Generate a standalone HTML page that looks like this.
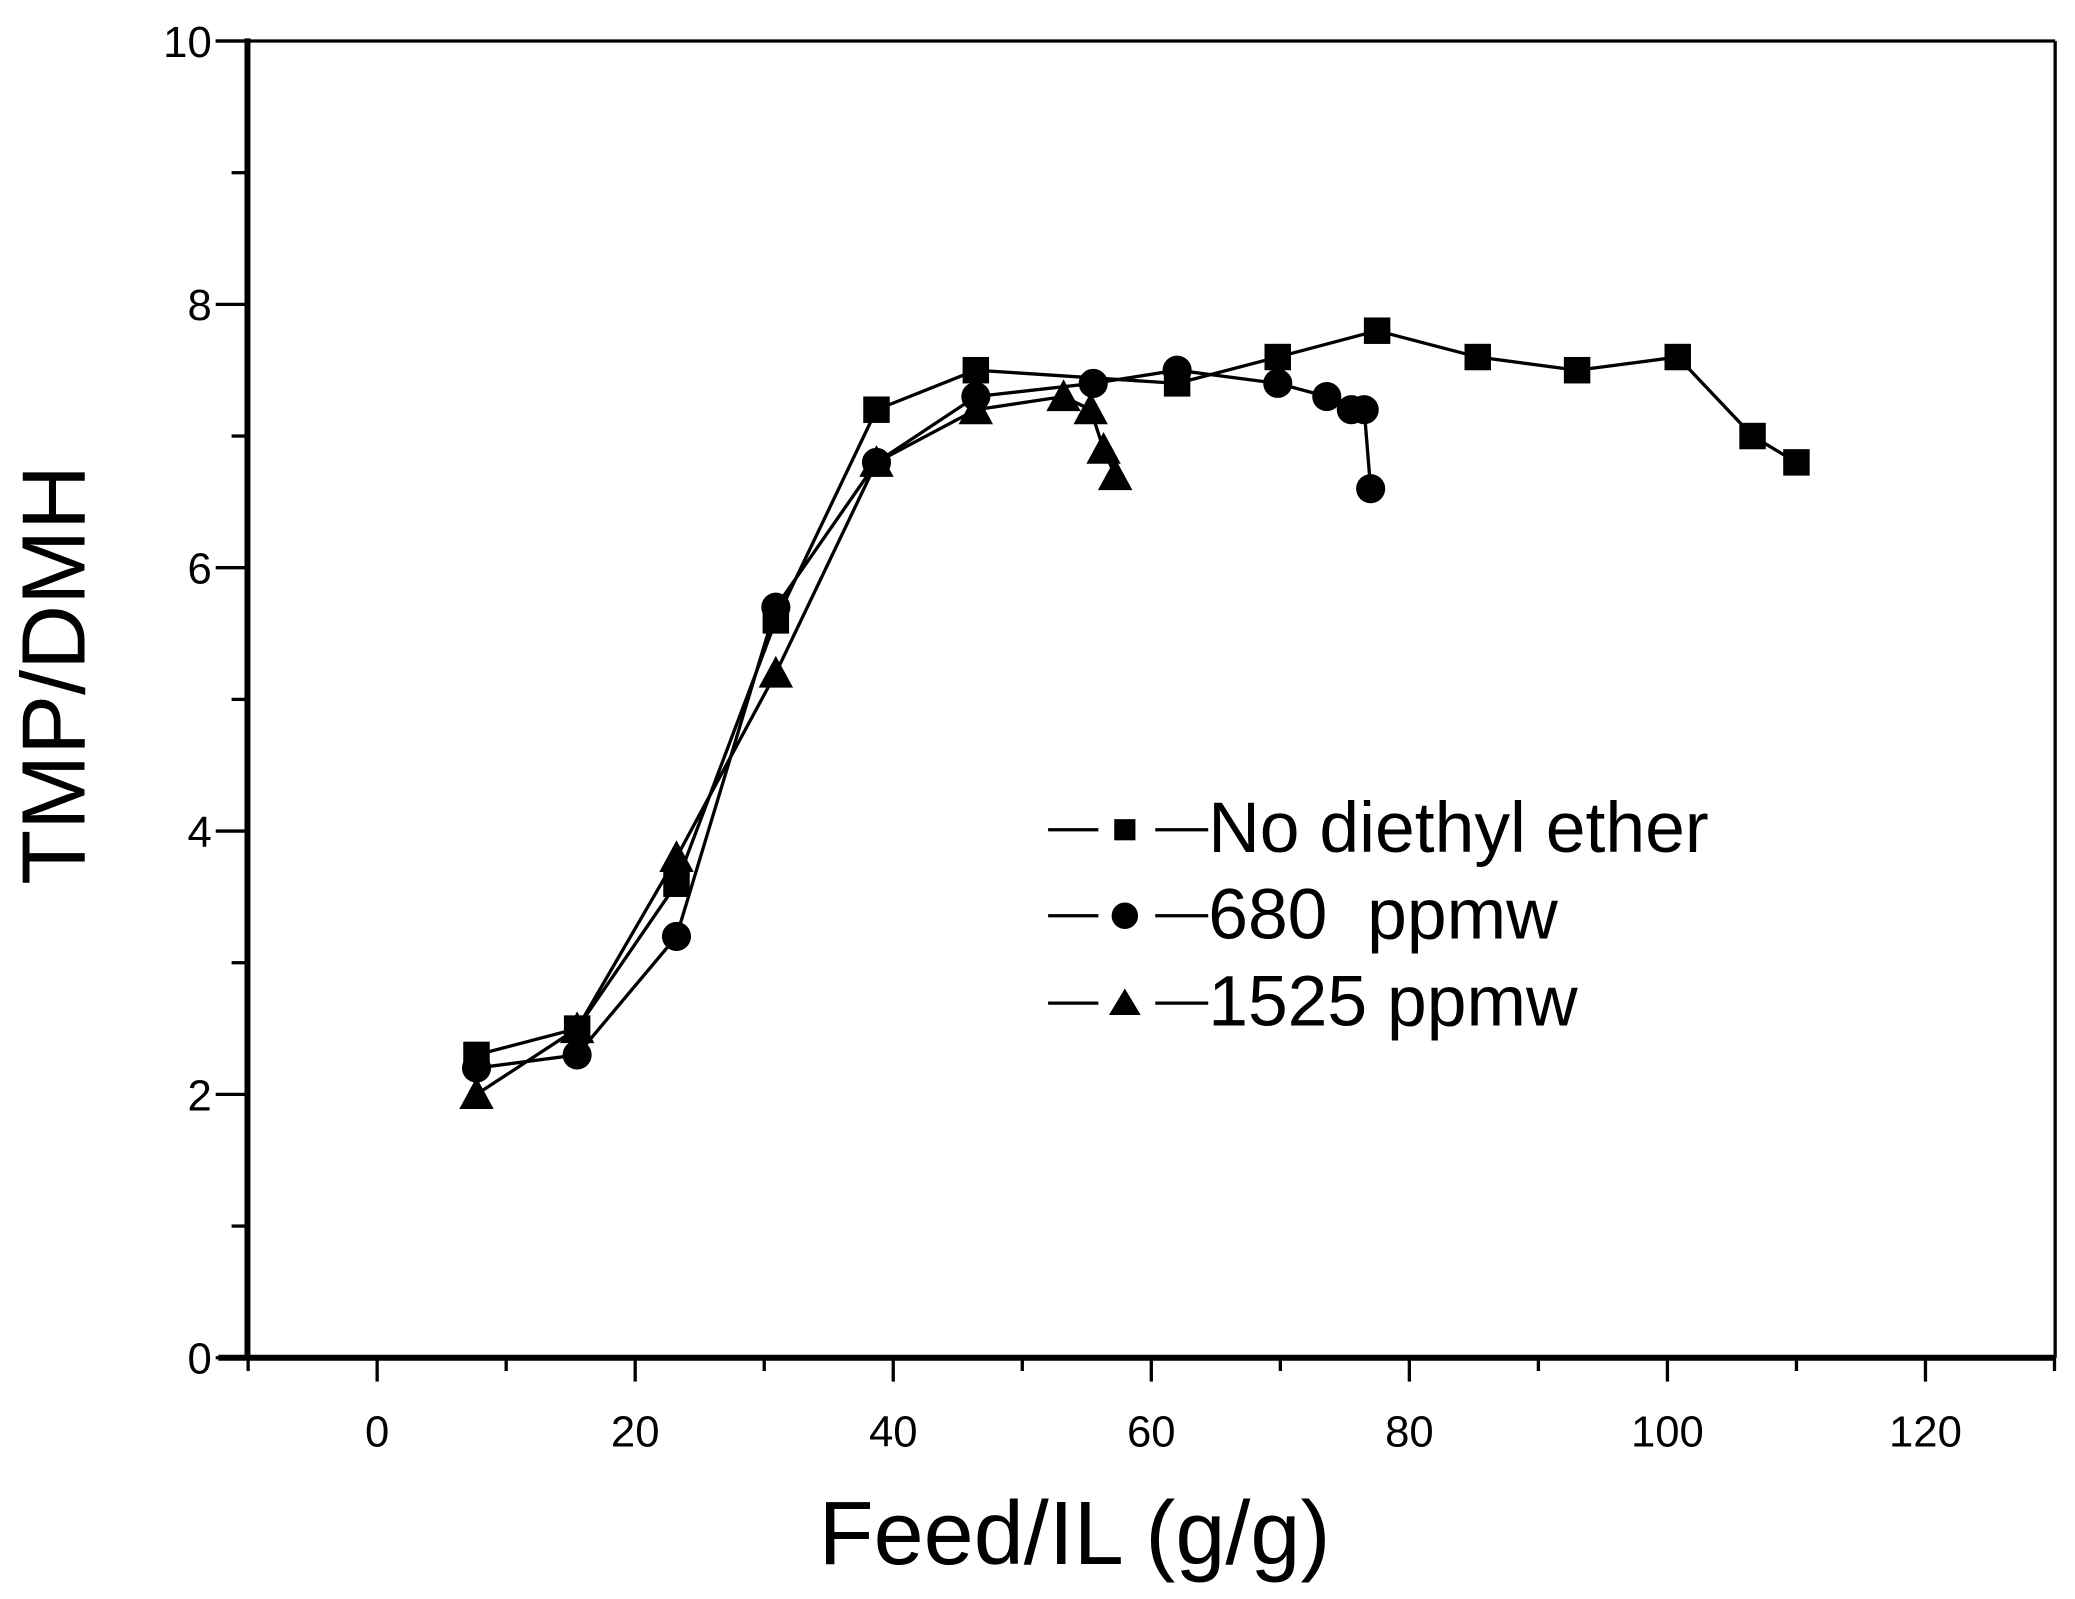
<!DOCTYPE html>
<html><head><meta charset="utf-8"><style>html,body{margin:0;padding:0;background:#fff}svg{display:block}</style></head>
<body>
<svg id="s" width="2075" height="1599" viewBox="0 0 1568 1208.3" preserveAspectRatio="none" xmlns="http://www.w3.org/2000/svg" font-family="Liberation Sans, Arial, sans-serif">
<rect width="1568" height="1209" fill="#fff"/>
<g stroke="#000" fill="none">
<line x1="163" y1="31" x2="1553" y2="31" stroke-width="2.5"/>
<line x1="1553" y1="31" x2="1553" y2="1026" stroke-width="2.5"/>
<line x1="187" y1="29" x2="187" y2="1028" stroke-width="4.5"/>
<line x1="165" y1="1026" x2="1553" y2="1026" stroke-width="4.5"/>
<g id="ticks" stroke-width="2.5"></g>
</g>
<g font-size="33" text-anchor="end" fill="#000">
<text x="160" y="43">10</text><text x="160" y="242">8</text><text x="160" y="441">6</text>
<text x="160" y="640">4</text><text x="160" y="839">2</text><text x="160" y="1038">0</text>
</g>
<g font-size="33" text-anchor="middle" fill="#000">
<text x="285" y="1093">0</text><text x="480" y="1093">20</text><text x="675" y="1093">40</text>
<text x="870" y="1093">60</text><text x="1065" y="1093">80</text><text x="1260" y="1093">100</text><text x="1455" y="1093">120</text>
</g>
<text x="812" y="1182" font-size="68" text-anchor="middle">Feed/IL (g/g)</text>
<text transform="translate(64,510) rotate(-90)" font-size="68" text-anchor="middle">TMP/DMH</text>
<g id="series"></g>
<g font-size="54" fill="#000">
<text x="913" y="644">No diethyl ether</text>
<text x="913" y="709">680&#160; ppmw</text>
<text x="913" y="775">1525 ppmw</text>
</g>
<g stroke="#000" stroke-width="2.5">
<line x1="792" y1="627" x2="830" y2="627"/><line x1="873" y1="627" x2="913" y2="627"/>
<line x1="792" y1="692" x2="830" y2="692"/><line x1="873" y1="692" x2="913" y2="692"/>
<line x1="792" y1="758" x2="830" y2="758"/><line x1="873" y1="758" x2="913" y2="758"/>
</g>
<rect x="842" y="619" width="16" height="16"/>
<circle cx="850" cy="692" r="10"/>
<polygon points="850,747 862,767 838,767"/>
</svg>
<script>
var NS="http://www.w3.org/2000/svg";
function X(x){return 285+9.75*x}function Y(y){return 1026-99.5*y}
function el(t,a,p){var e=document.createElementNS(NS,t);for(var k in a)e.setAttribute(k,a[k]);p.appendChild(e);return e}
var tk=document.getElementById('ticks');
for(var i=-10;i<=130;i+=10){var L=(i%20==0)?18:10;el('line',{x1:X(i),y1:1026,x2:X(i),y2:1026+L},tk)}
for(var j=0;j<=10;j++){var L2=(j%2==0)?24:12;el('line',{x1:187-L2,y1:Y(j),x2:187,y2:Y(j)},tk)}
var sq=[[7.7,2.3],[15.5,2.5],[23.2,3.6],[30.9,5.6],[38.7,7.2],[46.4,7.5],[62,7.4],[69.8,7.6],[77.5,7.8],[85.3,7.6],[93,7.5],[100.8,7.6],[106.6,7.0],[110,6.8]];
var ci=[[7.7,2.2],[15.5,2.3],[23.2,3.2],[30.9,5.7],[38.7,6.8],[46.4,7.3],[55.5,7.4],[62,7.5],[69.8,7.4],[73.6,7.3],[75.5,7.2],[76.5,7.2],[77,6.6]];
var tr=[[7.7,2.0],[15.5,2.5],[23.2,3.8],[30.9,5.2],[38.7,6.8],[46.4,7.2],[53.2,7.3],[55.3,7.2],[56.3,6.9],[57.2,6.7]];
var g=document.getElementById('series');
[sq,ci,tr].forEach(function(d,k){
 el('polyline',{points:d.map(function(p){return X(p[0])+','+Y(p[1])}).join(' '),fill:'none',stroke:'#000','stroke-width':2.5},g);
 d.forEach(function(p){var x=X(p[0]),y=Y(p[1]);
  if(k==0)el('rect',{x:x-10,y:y-10,width:20,height:20},g);
  else if(k==1)el('circle',{cx:x,cy:y,r:11},g);
  else el('polygon',{points:x+','+(y-13)+' '+(x+13)+','+(y+11)+' '+(x-13)+','+(y+11)},g);
 });
});
</script>
</body></html>
